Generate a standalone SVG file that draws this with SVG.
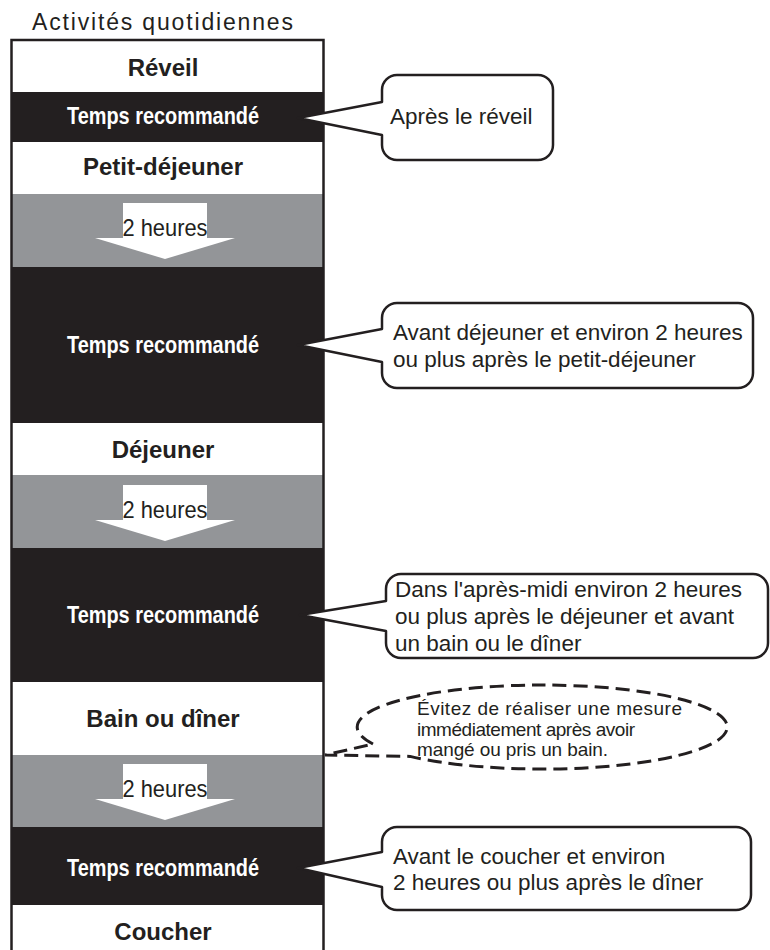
<svg xmlns="http://www.w3.org/2000/svg" width="770" height="950" viewBox="0 0 770 950">
<style>
.bk{fill:#231f20}
.gy{fill:#939598}
.wh{fill:#ffffff}
.lbl{font-family:"Liberation Sans",Arial,sans-serif;font-weight:bold;font-size:24px;fill:#231f20;text-anchor:middle}
.tr{font-family:"Liberation Sans",Arial,sans-serif;font-weight:bold;font-size:24px;fill:#ffffff;text-anchor:middle}
.hr{font-family:"Liberation Sans",Arial,sans-serif;font-size:24px;fill:#231f20;text-anchor:middle}
.co{font-family:"Liberation Sans",Arial,sans-serif;font-size:22.5px;fill:#231f20}
.el{font-family:"Liberation Sans",Arial,sans-serif;font-size:19px;fill:#231f20}
.bubble{fill:#ffffff;stroke:#231f20;stroke-width:2.5;stroke-linejoin:round}
.dash{fill:#ffffff;stroke:#231f20;stroke-width:3;stroke-dasharray:14 7}
</style>
<rect width="770" height="950" fill="#ffffff"/>
<text x="32" y="30" font-family="Liberation Sans, Arial, sans-serif" font-size="23" fill="#231f20" textLength="261" lengthAdjust="spacing">Activités quotidiennes</text>

<g id="column">
  <rect x="11.5" y="40" width="312" height="52" class="wh"/>
  <rect x="11.5" y="92" width="312" height="50" class="bk"/>
  <rect x="11.5" y="142" width="312" height="52" class="wh"/>
  <rect x="11.5" y="194" width="312" height="73" class="gy"/>
  <rect x="11.5" y="267" width="312" height="156" class="bk"/>
  <rect x="11.5" y="423" width="312" height="52" class="wh"/>
  <rect x="11.5" y="475" width="312" height="73" class="gy"/>
  <rect x="11.5" y="548" width="312" height="134" class="bk"/>
  <rect x="11.5" y="682" width="312" height="73" class="wh"/>
  <rect x="11.5" y="755" width="312" height="72" class="gy"/>
  <rect x="11.5" y="827" width="312" height="78" class="bk"/>
  <rect x="11.5" y="905" width="312" height="50" class="wh"/>
  <path d="M11.5,955 V40 H323.5 V955" fill="none" stroke="#231f20" stroke-width="2.5"/>
</g>

<g id="reveil"><text x="163" y="76" class="lbl">Réveil</text></g>
<g id="temps1"><text x="163" y="124" class="tr" textLength="192" lengthAdjust="spacingAndGlyphs">Temps recommandé</text></g>
<g id="petit-dejeuner"><text x="163" y="175" class="lbl">Petit-déjeuner</text></g>
<g id="temps2"><text x="163" y="353" class="tr" textLength="192" lengthAdjust="spacingAndGlyphs">Temps recommandé</text></g>
<g id="dejeuner"><text x="163" y="458" class="lbl">Déjeuner</text></g>
<g id="temps3"><text x="163" y="623" class="tr" textLength="192" lengthAdjust="spacingAndGlyphs">Temps recommandé</text></g>
<g id="bain"><text x="163" y="727" class="lbl">Bain ou dîner</text></g>
<g id="temps4"><text x="163" y="876" class="tr" textLength="192" lengthAdjust="spacingAndGlyphs">Temps recommandé</text></g>
<g id="coucher"><text x="163" y="940" class="lbl">Coucher</text></g>

<g id="connectors">
  <g id="arrow1">
    <rect x="123" y="203" width="84" height="35" class="wh"/>
    <polygon points="95,238 235,238 165,259" class="wh"/>
    <text x="165" y="236" class="hr" textLength="85" lengthAdjust="spacingAndGlyphs">2 heures</text>
  </g>
  <g id="arrow2">
    <rect x="123" y="485" width="84" height="35" class="wh"/>
    <polygon points="95,520 235,520 165,541" class="wh"/>
    <text x="165" y="518" class="hr" textLength="85" lengthAdjust="spacingAndGlyphs">2 heures</text>
  </g>
  <g id="arrow3">
    <rect x="123" y="764" width="84" height="35" class="wh"/>
    <polygon points="95,799 235,799 165,820" class="wh"/>
    <text x="165" y="797" class="hr" textLength="85" lengthAdjust="spacingAndGlyphs">2 heures</text>
  </g>
</g>

<g id="callout1">
  <path class="bubble" d="M397,75 H538 A15,15 0 0 1 553,90 V145 A15,15 0 0 1 538,160 H397 A15,15 0 0 1 382,145 V135 L298,118 L382,102 V90 A15,15 0 0 1 397,75 Z"/>
  <text x="390" y="124" class="co">Après le réveil</text>
</g>
<g id="callout2">
  <path class="bubble" d="M397,303 H738 A15,15 0 0 1 753,318 V373 A15,15 0 0 1 738,388 H397 A15,15 0 0 1 382,373 V362 L298,345 L382,329 V318 A15,15 0 0 1 397,303 Z"/>
  <text class="co"><tspan x="393" y="340">Avant déjeuner et environ 2 heures</tspan><tspan x="393" y="367">ou plus après le petit-déjeuner</tspan></text>
</g>
<g id="callout3">
  <path class="bubble" d="M401,574 H753 A15,15 0 0 1 768,589 V643 A15,15 0 0 1 753,658 H401 A15,15 0 0 1 386,643 V631 L300,615 L386,601 V589 A15,15 0 0 1 401,574 Z"/>
  <text class="co"><tspan x="395" y="597">Dans l'après-midi environ 2 heures</tspan><tspan x="395" y="624">ou plus après le déjeuner et avant</tspan><tspan x="395" y="651">un bain ou le dîner</tspan></text>
</g>
<g id="note">
  <path class="dash" d="M373,744 A185,42 0 1 1 410,756.4 L325,755 Z"/>
  <text class="el"><tspan x="417" y="715" textLength="265" lengthAdjust="spacing">Évitez de réaliser une mesure</tspan><tspan x="417" y="736" textLength="218" lengthAdjust="spacing">immédiatement après avoir</tspan><tspan x="417" y="756" textLength="191" lengthAdjust="spacing">mangé ou pris un bain.</tspan></text>
</g>
<g id="callout4">
  <path class="bubble" d="M397,827 H736 A15,15 0 0 1 751,842 V895 A15,15 0 0 1 736,910 H397 A15,15 0 0 1 382,895 V887 L298,868 L382,852 V842 A15,15 0 0 1 397,827 Z"/>
  <text class="co"><tspan x="393" y="864">Avant le coucher et environ</tspan><tspan x="393" y="890">2 heures ou plus après le dîner</tspan></text>
</g>
</svg>
